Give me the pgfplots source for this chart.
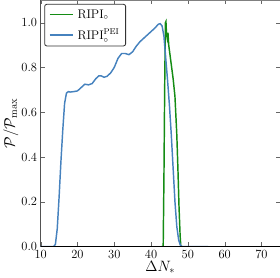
\documentclass[border=0pt]{standalone}
\usepackage{pgfplots}
\pgfplotsset{compat=1.18}
\definecolor{cgreen}{RGB}{20,140,20}
\definecolor{cblue}{RGB}{70,130,190}
\begin{document}
\begin{tikzpicture}
\begin{axis}[
  scale only axis,
  width=230pt, height=237pt,
  xmin=10, xmax=75, ymin=0, ymax=1.1,
  xtick={10,20,30,40,50,60,70},
  ytick={0,0.2,0.4,0.6,0.8,1.0},
  yticklabel style={/pgf/number format/fixed,/pgf/number format/fixed zerofill,/pgf/number format/precision=1},
  tick label style={font=\large},
  label style={font=\Large},
  xlabel={$\Delta N_*$},
  ylabel={$\mathcal{P}/\mathcal{P}_{\max}$},
  axis line style={gray},
  tick style={gray!80!black},
  tick align=inside,
  major tick length=4pt,
  xlabel style={yshift=4pt},
  ylabel style={yshift=-4pt},
  legend style={draw=black!80, thick, rounded corners=2pt, font=\large, at={(0.015,0.985)}, anchor=north west, row sep=5pt, inner xsep=4pt, inner ysep=3pt},
  legend image code/.code={\draw[#1, sharp corners] (0pt,0pt) -- (22pt,0pt);},
  legend image post style={line width=1.6pt},
  legend cell align=left,
]
\addplot[cgreen, line width=1.4pt] coordinates {
(42.8,0)(43.3,0)(43.5,0.3)(43.7,0.7)(43.9,1.0)(44.05,1.005)(44.2,0.95)(44.4,0.93)(44.6,0.955)(44.8,0.9)(45.2,0.85)(45.6,0.8)(46,0.75)(46.5,0.67)(47,0.5)(47.3,0.35)(47.6,0.18)(47.9,0.05)(48.1,0)
};
\addlegendentry{\,RIPI$_\circ$}
\addplot[cblue, line width=1.4pt] coordinates {
(10,0)(13.5,0)(14,0.01)(14.5,0.08)(15,0.22)(15.5,0.38)(16,0.52)(16.5,0.64)(17,0.685)(17.5,0.692)(18,0.69)(19,0.692)(20,0.695)(21,0.71)(22,0.725)(23,0.722)(24,0.728)(25,0.75)(25.8,0.762)(26.5,0.762)(27.2,0.756)(28,0.76)(29,0.775)(30,0.8)(31,0.84)(32,0.862)(33,0.862)(34,0.857)(35,0.87)(36,0.895)(37,0.915)(38,0.93)(39,0.945)(40,0.96)(41,0.975)(42,0.993)(42.5,0.995)(43,0.985)(43.5,0.94)(44,0.84)(44.5,0.74)(45,0.63)(45.5,0.5)(46,0.35)(46.5,0.2)(47,0.09)(47.5,0.03)(48,0.005)(48.5,0)(55.5,0)
};
\addlegendentry{\,RIPI$_\circ^{\rm PEI}$}
\draw[black, line width=1.2pt] (rel axis cs:0,1) -- (rel axis cs:0,0) -- (rel axis cs:1,0);
\end{axis}
\end{tikzpicture}
\end{document}
